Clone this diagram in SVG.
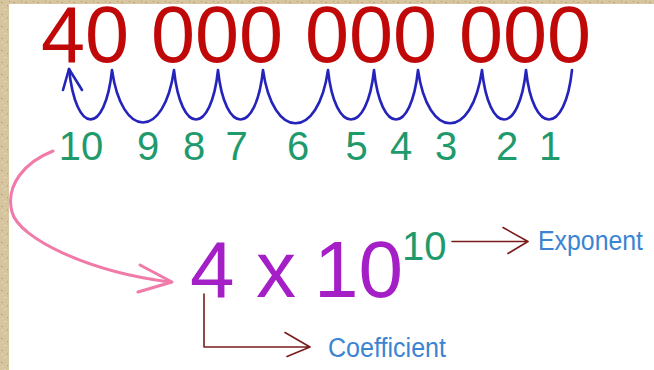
<svg xmlns="http://www.w3.org/2000/svg" width="654" height="370" viewBox="0 0 654 370">
<defs>
<style>
.big{font-family:"Liberation Sans",Arial,sans-serif;font-size:80px}
.red{fill:#c00808}
.pur{fill:#a51fc6}
.grn{font-family:"Liberation Sans",Arial,sans-serif;font-size:40px;fill:#1f9a6c;text-anchor:middle}
.lbl{font-family:"Liberation Sans",Arial,sans-serif;font-size:27px;fill:#3b84d2}
.blue{fill:none;stroke:#2424bb;stroke-width:2.6;stroke-linecap:round;stroke-linejoin:round}
.pink{fill:none;stroke:#f07aa8;stroke-width:3;stroke-linecap:round;stroke-linejoin:round}
.dred{fill:none;stroke:#7a1c1c;stroke-width:1.6;stroke-linecap:round;stroke-linejoin:round}
</style>
<pattern id="tex" width="12" height="12" patternUnits="userSpaceOnUse">
<rect width="12" height="12" fill="#d6c59e"/>
<rect x="1" y="2" width="2" height="1" fill="#b9a67c"/>
<rect x="7" y="5" width="1" height="2" fill="#c2af86"/>
<rect x="4" y="9" width="2" height="1" fill="#e6d8b5"/>
<rect x="9" y="1" width="1" height="1" fill="#a8966e"/>
<rect x="2" y="6" width="1" height="1" fill="#e9dcbb"/>
</pattern>
</defs>
<rect width="654" height="370" fill="#ffffff"/>
<rect x="0" y="0" width="654" height="4" fill="url(#tex)"/>
<rect x="0" y="0" width="9" height="370" fill="url(#tex)"/>

<g id="number">
<text class="big red" x="41" y="62" textLength="550" lengthAdjust="spacingAndGlyphs">40 000 000 000</text>
</g>

<g id="counts">
<text class="grn" x="81" y="160">10</text>
<text class="grn" x="148" y="160">9</text>
<text class="grn" x="194" y="160">8</text>
<text class="grn" x="236.5" y="160">7</text>
<text class="grn" x="298" y="160">6</text>
<text class="grn" x="356.5" y="160">5</text>
<text class="grn" x="401" y="160">4</text>
<text class="grn" x="446" y="160">3</text>
<text class="grn" x="507" y="160">2</text>
<text class="grn" x="550" y="160">1</text>
</g>

<g id="scientific">
<text class="big pur" x="190" y="297">4</text>
<text class="big pur" x="256" y="297">x</text>
<text class="big pur" x="314" y="297">10</text>
<text class="grn" style="text-anchor:start" x="402" y="260">10</text>
</g>

<g id="exponent-label">
<text class="lbl" x="538" y="249.5" textLength="105" lengthAdjust="spacingAndGlyphs">Exponent</text>
</g>
<g id="coefficient-label">
<text class="lbl" x="328" y="356.5" textLength="118" lengthAdjust="spacingAndGlyphs">Coefficient</text>
</g>

<g id="connectors">
<path class="blue" d="M69,69 C76,136 105,136 112,70 C122,140 164,140 174,70 C181,136 211,136 218,70 C225,136 256,136 263,70 C273,141 318,141 328,70 C335,136 367,136 374,70 C381,136 411,136 418,70 C428,141 472,141 482,70 C489,136 519,136 526,70 C533,136 565,136 572,70"/>
<path class="blue" d="M63,90 L69,69 L82,90"/>
<path class="pink" d="M53,151 C25,162 5,185 12,212 C19,239 90,272 170,282"/>
<path class="pink" d="M140,265 L172,282 L138,292"/>
<path class="dred" d="M452,241.5 L528,241.5 M503,227.5 L528,241.5 L508,253.5"/>
<path class="dred" d="M204,294 L204,347 L310,347 M285,332.5 L310,347 L287,356.5"/>
</g>
</svg>
